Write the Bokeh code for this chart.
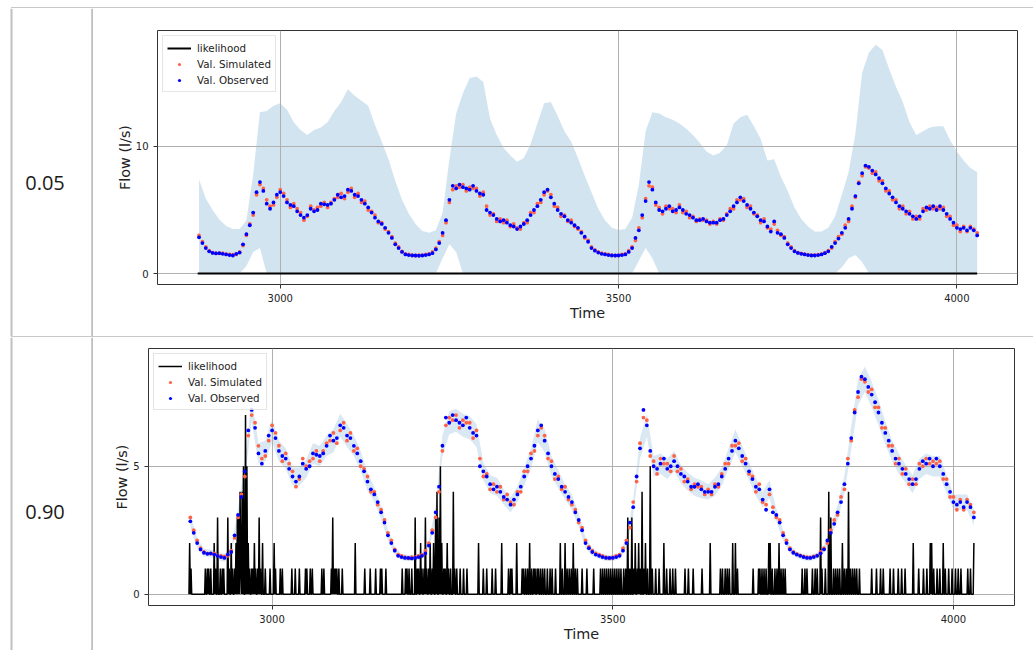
import numpy as np
from bokeh.plotting import figure
from bokeh.layouts import column, row
from bokeh.models import Range1d, FixedTicker, Span, Spacer, Div
from bokeh.core.properties import value
from bokeh.embed import file_html
from bokeh.resources import INLINE

# ---------------- data ----------------
row_labels = ["0.05", "0.90"]
x_ticks = [3000, 3500, 4000]
y_ticks_top = [0, 10]
y_ticks_bottom = [0, 5]

obs_t0, obs_dt = 2880, 5
observed = [
    2.85, 2.4, 2.0, 1.75, 1.62, 1.58, 1.6, 1.55, 1.5, 1.45,
    1.42, 1.55, 1.65, 2.3, 3.1, 3.8, 4.8, 6.4, 7.2, 6.5,
    5.5, 5.1, 5.6, 6.2, 6.4, 6.1, 5.6, 5.4, 5.3, 4.9,
    4.6, 4.4, 4.6, 5.1, 4.9, 5.0, 5.5, 5.45, 5.4, 5.5,
    5.8, 6.2, 6.0, 6.1, 6.6, 6.5, 6.2, 6.1, 5.8, 5.5,
    5.2, 4.8, 4.4, 4.1, 3.9, 3.6, 3.2, 2.8, 2.3, 2.0,
    1.7, 1.5, 1.45, 1.42, 1.42, 1.4, 1.42, 1.45, 1.5, 1.6,
    1.9, 2.4, 3.2, 4.2, 5.8, 6.9, 6.7, 7.0, 6.8, 6.7,
    6.6, 6.9, 6.5, 6.3, 6.2, 5.0, 4.8, 4.6, 4.3, 4.1,
    4.2, 4.0, 3.8, 3.7, 3.5, 3.7, 3.9, 4.2, 4.6, 5.0,
    5.3, 5.8, 6.4, 6.6, 6.0, 5.5, 5.0, 4.7, 4.5, 4.2,
    4.0, 3.8, 3.6, 3.2, 2.9, 2.5, 2.0, 1.8, 1.65, 1.55,
    1.5, 1.45, 1.42, 1.42, 1.42, 1.45, 1.5, 1.7, 2.0, 2.8,
    3.4, 4.6, 5.7, 7.2, 6.6, 5.6, 5.0, 4.9, 5.1, 5.3,
    4.9, 5.0, 5.2, 5.0, 4.7, 4.6, 4.4, 4.2, 4.2, 4.3,
    4.1, 4.0, 4.0, 4.0, 4.2, 4.3, 4.6, 4.9, 5.3, 5.6,
    6.0, 5.7, 5.4, 5.1, 4.8, 4.5, 4.2, 4.1, 3.7, 3.3,
    4.1, 3.2, 3.1, 2.8, 2.3, 2.0, 1.75, 1.62, 1.55, 1.5,
    1.45, 1.42, 1.42, 1.45, 1.5, 1.6, 1.75, 2.1, 2.4, 2.75,
    3.2, 3.6, 4.3, 5.1, 6.1, 7.1, 7.9, 8.5, 8.4, 8.1,
    7.8, 7.5, 7.1, 6.7, 6.3, 6.0, 5.6, 5.3, 5.1, 4.9,
    4.7, 4.5, 4.3, 4.5, 4.9, 5.2, 5.1, 5.3, 5.0, 5.3,
    5.0, 4.7, 4.3, 4.0, 3.6, 3.5, 3.6, 3.4, 3.6, 3.4,
    3.0,
]
simulated = [
    3.0, 2.5, 2.1, 1.8, 1.65, 1.6, 1.58, 1.6, 1.52, 1.5,
    1.48, 1.5, 1.7, 2.2, 3.0, 3.9, 4.6, 6.2, 7.0, 6.7,
    5.8, 5.3, 5.4, 6.0, 6.6, 6.3, 5.8, 5.2, 5.5, 5.1,
    4.8, 4.2, 4.5, 5.3, 5.0, 5.2, 5.3, 5.6, 5.2, 5.6,
    5.9, 6.0, 6.3, 5.9, 6.4, 6.7, 6.0, 6.3, 5.6, 5.7,
    5.0, 4.9, 4.6, 4.0, 4.0, 3.5, 3.3, 2.9, 2.4, 2.1,
    1.75, 1.55, 1.5, 1.45, 1.4, 1.45, 1.45, 1.5, 1.55, 1.7,
    2.0, 2.5, 3.0, 4.0, 5.6, 6.6, 6.9, 6.8, 7.0, 6.5,
    6.8, 6.7, 6.7, 6.1, 6.4, 5.3, 4.6, 4.7, 4.1, 4.3,
    4.0, 4.2, 3.7, 3.9, 3.6, 3.5, 4.0, 4.0, 4.8, 4.8,
    5.5, 5.6, 6.2, 6.5, 6.2, 5.3, 5.2, 4.5, 4.6, 4.1,
    4.2, 3.7, 3.5, 3.3, 2.8, 2.6, 2.1, 1.85, 1.7, 1.6,
    1.55, 1.5, 1.45, 1.4, 1.45, 1.5, 1.55, 1.8, 2.1, 2.6,
    3.6, 4.4, 5.9, 6.9, 6.8, 5.4, 5.2, 4.7, 5.3, 5.1,
    5.1, 4.8, 5.4, 4.8, 4.9, 4.4, 4.5, 4.1, 4.3, 4.2,
    4.2, 3.9, 4.1, 3.9, 4.3, 4.2, 4.7, 5.1, 5.1, 5.8,
    5.8, 5.9, 5.2, 5.3, 4.7, 4.6, 4.0, 4.3, 3.6, 3.5,
    3.9, 3.4, 3.0, 2.9, 2.4, 2.1, 1.8, 1.65, 1.58, 1.52,
    1.48, 1.45, 1.44, 1.48, 1.52, 1.65, 1.8, 2.0, 2.5, 2.9,
    3.1, 3.8, 4.1, 5.3, 6.0, 7.2, 7.7, 8.4, 8.3, 7.9,
    8.0, 7.3, 7.3, 6.5, 6.5, 5.8, 5.8, 5.1, 5.3, 4.7,
    4.9, 4.3, 4.5, 4.3, 5.1, 5.0, 5.3, 5.1, 5.2, 5.1,
    5.2, 4.5, 4.5, 3.8, 3.8, 3.3, 3.7, 3.3, 3.7, 3.5,
    3.2,
]

band_t0, band_dt = 2880, 10
band_upper_005 = [
    7.4, 5.9, 5.0, 4.25, 3.75, 3.5, 3.5, 4.2, 7.8, 12.7,
    12.8, 13.2, 13.4, 12.9, 11.9, 11.3, 10.9, 11.3, 11.5, 11.9,
    12.8, 13.5, 14.5, 14.0, 13.6, 13.2, 11.7, 10.4, 9.0, 7.3,
    5.8, 4.7, 3.9, 3.35, 3.2, 3.4, 4.8, 9.0, 12.6, 14.2,
    15.4, 15.5, 15.1, 12.2, 10.9, 9.9, 9.3, 8.8, 9.1, 10.2,
    11.8, 13.4, 13.5, 12.4, 11.2, 10.4, 9.1, 7.7, 6.4, 5.1,
    4.2, 3.6, 3.43, 3.5, 4.4, 7.0, 11.2, 12.7, 12.6, 12.3,
    12.1, 11.8, 11.4, 10.9, 10.3, 9.6, 9.3, 9.5, 10.1, 11.8,
    12.3, 12.5, 11.6, 10.6, 8.9, 9.0, 7.6, 6.5, 5.2, 4.3,
    3.7, 3.3, 3.3, 3.6, 4.5, 6.2, 8.0, 11.0, 15.8, 17.4,
    18.0, 17.6, 16.1, 14.7, 13.5, 11.9, 10.9, 11.2, 11.5, 11.6,
    11.6, 10.5, 9.6, 8.9, 8.3, 8.0,
]
band_lower_005 = [
    0, 0, 0, 0, 0, 0, 0, 0.6, 1.7, 2.0,
    0, 0, 0, 0, 0, 0, 0, 0, 0, 0,
    0, 0, 0, 0, 0, 0, 0, 0, 0, 0,
    0, 0, 0, 0, 0, 0, 1.2, 2.3, 1.7, 0,
    0, 0, 0, 0, 0, 0, 0, 0, 0, 0,
    0, 0, 0, 0, 0, 0, 0, 0, 0, 0,
    0, 0, 0, 0, 0, 1.0, 2.0, 1.2, 0, 0,
    0, 0, 0, 0, 0, 0, 0, 0, 0, 0,
    0, 0, 0, 0, 0, 0, 0, 0, 0, 0,
    0, 0, 0, 0, 0, 0.5, 1.2, 1.45, 0.9, 0,
    0, 0, 0, 0, 0, 0, 0, 0, 0, 0,
    0, 0, 0, 0, 0, 0,
]
band_halfwidth_090 = [
    0.25, 0.2, 0.15, 0.15, 0.15, 0.15, 0.15, 0.25, 0.35, 0.45,
    0.4, 0.4, 0.45, 0.4, 0.4, 0.35, 0.35, 0.35, 0.4, 0.4,
    0.4, 0.45, 0.45, 0.45, 0.4, 0.4, 0.35, 0.3, 0.25, 0.2,
    0.15, 0.12, 0.12, 0.12, 0.12, 0.15, 0.25, 0.4, 0.45, 0.45,
    0.45, 0.45, 0.45, 0.35, 0.35, 0.35, 0.3, 0.3, 0.3, 0.35,
    0.4, 0.45, 0.45, 0.4, 0.35, 0.3, 0.3, 0.25, 0.2, 0.15,
    0.12, 0.12, 0.12, 0.12, 0.2, 0.3, 0.4, 0.45, 0.4, 0.4,
    0.4, 0.4, 0.35, 0.35, 0.35, 0.35, 0.3, 0.35, 0.35, 0.4,
    0.45, 0.4, 0.35, 0.35, 0.3, 0.35, 0.25, 0.2, 0.15, 0.12,
    0.12, 0.12, 0.12, 0.15, 0.2, 0.3, 0.35, 0.45, 0.5, 0.5,
    0.5, 0.5, 0.45, 0.4, 0.4, 0.35, 0.35, 0.4, 0.4, 0.4,
    0.4, 0.35, 0.3, 0.3, 0.3, 0.3,
]

likelihood_005_t = [2878, 4030]
likelihood_005 = [0, 0]

lik_t0, lik_t1 = 2878, 4030
likelihood_090_spikes = [
    (2879, 2), (2881, 1), (2902, 1), (2905, 1), (2907, 1), (2910, 1), (2915, 2), (2917, 1),
    (2920, 3), (2924, 1), (2927, 1), (2929, 1), (2935, 3), (2937, 1), (2940, 2), (2942, 1),
    (2945, 1), (2947, 2), (2949, 3), (2951, 3), (2953, 4), (2954, 1), (2956, 4), (2958, 5),
    (2961, 7), (2963, 5), (2965, 2), (2967, 1), (2970, 1), (2972, 1), (2974, 2), (2976, 1),
    (2979, 1), (2981, 3), (2983, 1), (2986, 2), (2990, 1), (2997, 1), (3003, 2), (3005, 1),
    (3012, 1), (3015, 1), (3029, 1), (3034, 1), (3040, 1), (3049, 1), (3051, 1), (3056, 1),
    (3059, 1), (3073, 1), (3076, 1), (3087, 1), (3089, 3), (3091, 1), (3093, 1), (3095, 1),
    (3098, 1), (3103, 1), (3122, 2), (3136, 1), (3144, 1), (3152, 1), (3159, 1), (3161, 1),
    (3167, 1), (3191, 1), (3196, 1), (3198, 1), (3201, 1), (3205, 1), (3210, 3), (3213, 1),
    (3215, 1), (3218, 2), (3220, 1), (3223, 1), (3225, 3), (3227, 1), (3230, 1), (3232, 2),
    (3235, 1), (3237, 2), (3240, 3), (3242, 4), (3245, 3), (3247, 5), (3249, 2), (3252, 1),
    (3254, 1), (3257, 2), (3259, 1), (3262, 1), (3266, 4), (3268, 1),
    (3271, 1), (3276, 1), (3281, 1), (3286, 1), (3303, 2), (3310, 1), (3315, 1), (3323, 1),
    (3328, 1), (3337, 2), (3347, 1), (3350, 1), (3352, 1), (3359, 2), (3367, 1), (3369, 1),
    (3372, 1), (3375, 1), (3378, 2), (3381, 1), (3384, 1), (3386, 1), (3389, 1), (3391, 1),
    (3394, 1), (3397, 1), (3400, 1), (3404, 1), (3408, 1), (3411, 1), (3416, 1), (3423, 2),
    (3426, 1), (3430, 2), (3433, 1), (3436, 1), (3439, 1), (3442, 2), (3445, 1), (3448, 1),
    (3455, 1), (3462, 1), (3472, 1), (3482, 1), (3485, 1), (3488, 1), (3491, 1), (3494, 1),
    (3497, 1), (3500, 1), (3503, 1), (3506, 1), (3509, 1), (3512, 1), (3516, 1), (3519, 1),
    (3522, 3), (3525, 1), (3528, 3), (3531, 1), (3533, 2), (3536, 1), (3538, 2), (3540, 1),
    (3543, 4), (3546, 1), (3548, 2), (3551, 1), (3555, 5), (3558, 1), (3563, 1), (3568, 1),
    (3575, 2), (3579, 1), (3584, 1), (3588, 1), (3592, 1), (3606, 1), (3611, 1), (3618, 1),
    (3631, 1), (3643, 2), (3658, 1), (3661, 1), (3665, 1), (3668, 1), (3671, 1), (3676, 2),
    (3680, 2), (3683, 1), (3706, 1), (3714, 1), (3716, 1), (3719, 1), (3722, 1), (3725, 1),
    (3729, 2), (3731, 2), (3734, 1), (3738, 1), (3741, 1), (3744, 2), (3747, 1), (3750, 1),
    (3753, 1), (3778, 1), (3782, 1), (3785, 1), (3793, 1), (3797, 1), (3800, 1), (3805, 3),
    (3807, 1), (3812, 1), (3817, 4), (3820, 3), (3824, 1), (3827, 1), (3830, 1), (3833, 1),
    (3837, 2), (3840, 1), (3843, 1), (3846, 4), (3849, 1), (3852, 1), (3855, 1), (3858, 1),
    (3862, 1), (3880, 1), (3887, 1), (3893, 1), (3897, 1), (3907, 1), (3912, 1), (3919, 1),
    (3924, 1), (3929, 1), (3941, 2), (3949, 1), (3956, 1), (3961, 1), (3966, 2), (3968, 2),
    (3971, 1), (3976, 1), (3980, 1), (3985, 2), (3988, 1), (3993, 1), (3998, 1), (4003, 1),
    (4007, 1), (4011, 1), (4021, 1), (4025, 1), (4030, 2),
]

# ---------------- derived arrays ----------------
obs_t = obs_t0 + obs_dt * np.arange(len(observed))
band_t = band_t0 + band_dt * np.arange(len(band_upper_005))
band2_center = np.array(observed)[::2]
band2_lo = band2_center - np.array(band_halfwidth_090)
band2_hi = band2_center + np.array(band_halfwidth_090)
lik_t = np.arange(lik_t0, lik_t1 + 1)
lik_v = np.zeros(len(lik_t))
for tt, vv in likelihood_090_spikes:
    lik_v[tt - lik_t0] = vv

FONT = "DejaVu Sans"
TXT = "#222222"
X_RANGE = (2818.6, 4089.6)
LINE_GRAY = "#c0c0c0"


def panel(height, borders, y_range, y_ticks, lo, hi, band_alpha, lx, ly, lw):
    left, right, top, bottom = borders
    p = figure(width=940, height=height, x_range=Range1d(*X_RANGE), y_range=Range1d(*y_range),
               toolbar_location=None, output_backend="svg",
               min_border_left=left, min_border_right=right,
               min_border_top=top, min_border_bottom=bottom)
    band = p.varea(x=band_t, y1=lo, y2=hi, fill_color="#1f77b4", fill_alpha=band_alpha)
    band.level = "image"
    p.line(lx, ly, line_color="black", line_width=lw, legend_label="likelihood")
    p.scatter(obs_t, simulated, size=3.8, fill_color="#ff6347", line_color=None,
              legend_label="Val. Simulated")
    p.scatter(obs_t, observed, size=3.8, fill_color="#0000ff", line_color=None,
              legend_label="Val. Observed")

    p.xaxis.ticker = FixedTicker(ticks=x_ticks)
    p.yaxis.ticker = FixedTicker(ticks=y_ticks)
    p.xgrid.ticker = FixedTicker(ticks=x_ticks)
    p.ygrid.ticker = FixedTicker(ticks=y_ticks)
    p.grid.grid_line_color = "#b0b0b0"
    p.grid.grid_line_width = 1
    for ax in (p.xaxis[0], p.yaxis[0]):
        ax.axis_line_color = None
        ax.major_tick_line_color = "#333333"
        ax.major_tick_out = 4
        ax.major_tick_in = 0
        ax.minor_tick_line_color = None
        ax.major_label_text_font = FONT
        ax.major_label_text_font_size = "10px"
        ax.major_label_text_color = TXT
        ax.axis_label_text_font = FONT
        ax.axis_label_text_font_size = "14.4px"
        ax.axis_label_text_font_style = "normal"
        ax.axis_label_text_color = TXT
    p.xaxis.axis_label = "Time"
    p.yaxis.axis_label = "Flow (l/s)"
    p.xaxis.axis_label_standoff = 0
    p.xaxis.major_label_standoff = 5
    p.yaxis.axis_label_standoff = 0
    p.yaxis.major_label_standoff = 5
    p.outline_line_color = "#333333"
    p.outline_line_alpha = 1
    p.outline_line_width = 1

    lg = p.legend[0]
    lg.location = "top_left"
    lg.margin = 5
    lg.padding = 4
    lg.spacing = 1
    lg.label_height = 15
    lg.glyph_height = 8
    lg.glyph_width = 24
    lg.label_standoff = 6
    lg.label_text_font = FONT
    lg.label_text_font_size = "10.3px"
    lg.label_text_color = TXT
    lg.border_line_color = "#cccccc"
    lg.border_line_width = 1
    lg.background_fill_alpha = 0.8
    return p


def cell(height, label, label_y):
    c = figure(width=93, height=height, x_range=Range1d(0, 93), y_range=Range1d(0, height),
               toolbar_location=None, output_backend="svg", min_border=0,
               x_axis_location=None, y_axis_location=None)
    c.grid.visible = False
    c.outline_line_color = None
    c.add_layout(Span(location=11, dimension="height", line_color=LINE_GRAY, line_width=2))
    c.add_layout(Span(location=91.7, dimension="height", line_color=LINE_GRAY, line_width=2))
    c.text(x=[44.5], y=[label_y], text=[label], text_font=value("Open Sans"),
           text_font_size="20px", text_align="center", text_baseline="middle",
           text_color="#1a1a1a")
    return c


def separator():
    line = Div(text="", width=1022, height=1, margin=0,
               styles={"background-color": "#c8c8c8"})
    return row(Spacer(width=11, height=1), line)


p_top = panel(328, (64, 16, 22, 52), (-0.864, 19.13), y_ticks_top,
              band_lower_005, band_upper_005, 0.2, likelihood_005_t, likelihood_005, 2)
p_bot = panel(313, (55, 19, 11, 45), (-0.44, 9.6), y_ticks_bottom,
              band2_lo, band2_hi, 0.17, lik_t, lik_v, 1.5)

layout = column(
    Spacer(width=1033, height=7),
    separator(),
    row(column(cell(328, row_labels[0], 153.5)), p_top),
    separator(),
    row(column(cell(313, row_labels[1], 139)), p_bot),
)

open("out.html", "w").write(file_html(layout, INLINE))
